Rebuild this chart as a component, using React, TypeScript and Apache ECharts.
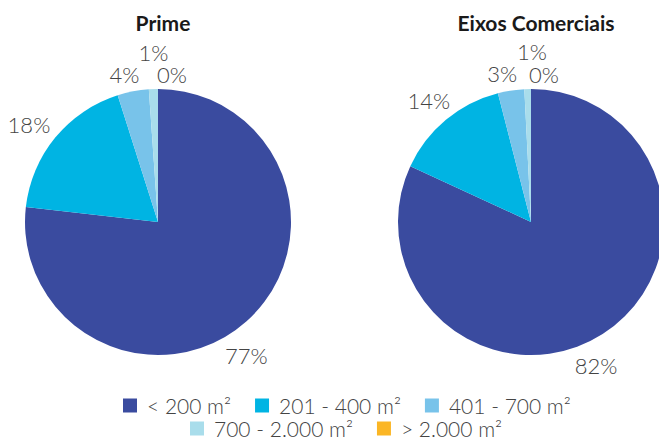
import React, { useEffect, useRef } from "react";
import * as echarts from "echarts";

const categories = ["< 200 m²", "201 - 400 m²", "401 - 700 m²", "700 - 2.000 m²", "> 2.000 m²"];
const colors = ["#3A4B9F", "#00B4E3", "#78C3EA", "#A9DDEB", "#FBB625"];
const titles = ["Prime", "Eixos Comerciais"];
const primeValues = [76.8, 18.3, 3.8, 1.1, 0];
const eixosValues = [81.9, 14.1, 3.2, 0.8, 0];

// label nudges (dx, dy) per slice, emulating the original placement
const primeLabelShift = [[-17, 16], [-7, 3], [-4, 8], [1, -12], [14, 10]];
const eixosLabelShift = [[-20, 10], [-1, 0], [-5, 8], [5, -13], [13, 10]];

const FONT = "Lato, 'Open Sans', sans-serif";

export default function App() {
  const ref = useRef<HTMLDivElement>(null);
  useEffect(() => {
    if (!ref.current) return;
    const chart = echarts.init(ref.current, undefined, { renderer: "svg" });
    const centers = [[158, 222], [531, 222]];
    const valueSets = [primeValues, eixosValues];
    const shifts = [primeLabelShift, eixosLabelShift];
    const series: any[] = [];
    valueSets.forEach((vals, i) => {
      const data = categories.map((c, k) => ({ name: c, value: vals[k], itemStyle: { color: colors[k] } }));
      series.push({
        type: "pie",
        center: centers[i],
        radius: 133,
        startAngle: 90,
        clockwise: true,
        avoidLabelOverlap: false,
        silent: true,
        label: { show: false },
        labelLine: { show: false },
        itemStyle: { borderWidth: 0 },
        data,
      });
    });
    valueSets.forEach((vals, i) => {
      const data = categories.map((c, k) => ({ name: c, value: vals[k] }));
      series.push({
        type: "pie",
        center: centers[i],
        radius: [145, 165],
        startAngle: 90,
        clockwise: true,
        avoidLabelOverlap: false,
        silent: true,
        itemStyle: { color: "rgba(0,0,0,0)", borderWidth: 0 },
        label: {
          show: true,
          position: "inside",
          formatter: (p: any) => Math.round(p.value) + "%",
          color: "#444444",
          fontSize: 22,
          fontWeight: 300,
          fontFamily: FONT,
        },
        labelLine: { show: false },
        labelLayout: (p: any) => {
          const s = shifts[i][p.dataIndex];
          return { dx: s[0], dy: s[1] };
        },
        data,
      });
    });
    const legendData = categories.map((c, k) => ({ name: c, itemStyle: { color: colors[k] } }));
    const legendText = {
      fontFamily: FONT,
      fontSize: 21,
      lineHeight: 21,
      fontWeight: 300,
      color: "#444444",
      padding: [0, 0, 0, 5],
    };
    chart.setOption({
      animation: false,
      backgroundColor: "#ffffff",
      title: titles.map((t, i) => ({
        text: t,
        left: centers[i][0],
        top: 7,
        textAlign: "center",
        textStyle: { fontFamily: FONT, fontWeight: "bold", fontSize: 21, color: "#1a1a1a" },
      })),
      legend: [
        {
          data: legendData.slice(0, 3),
          left: 118,
          top: 390,
          padding: 5,
          itemWidth: 14,
          itemHeight: 14,
          itemGap: 24,
          icon: "rect",
          selectedMode: false,
          textStyle: legendText,
        },
        {
          data: legendData.slice(3),
          left: 185,
          top: 413,
          padding: 5,
          itemWidth: 14,
          itemHeight: 14,
          itemGap: 24,
          icon: "rect",
          selectedMode: false,
          textStyle: legendText,
        },
      ],
      series,
    });
    return () => chart.dispose();
  }, []);
  return <div ref={ref} style={{ position: "absolute", left: 0, top: 0, width: 659, height: 441 }} />;
}
